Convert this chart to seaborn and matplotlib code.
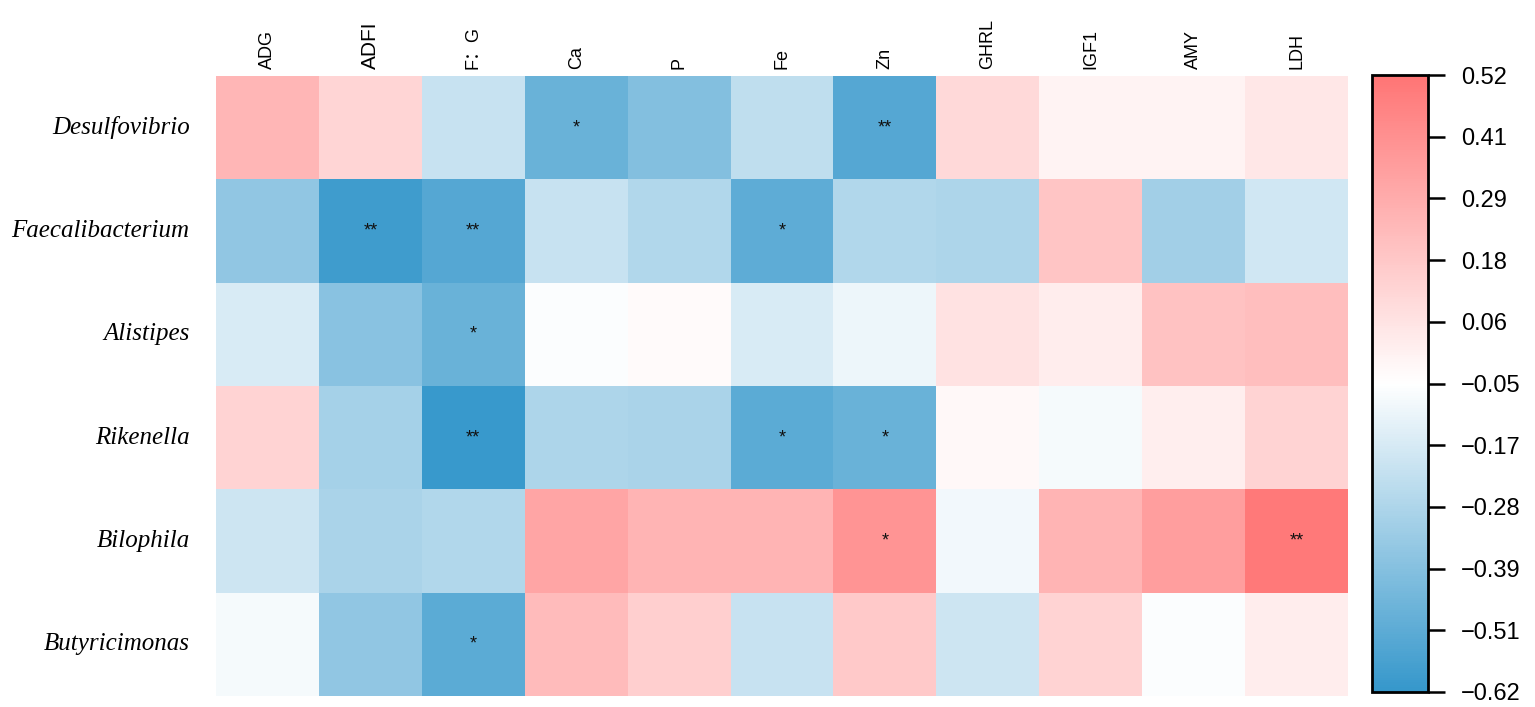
import numpy as np
import pandas as pd
import matplotlib
matplotlib.use("Agg")
import matplotlib.pyplot as plt
from matplotlib.colors import LinearSegmentedColormap
import seaborn as sns

genera = ["Desulfovibrio", "Faecalibacterium", "Alistipes", "Rikenella", "Bilophila", "Butyricimonas"]
indices = ["ADG", "ADFI", "F：G", "Ca", "P", "Fe", "Zn", "GHRL", "IGF1", "AMY", "LDH"]

r_desulfovibrio    = [0.25, 0.12, -0.21, -0.47, -0.40, -0.23, -0.53, 0.11, 0.00, 0.00, 0.05]
r_faecalibacterium = [-0.36, -0.59, -0.53, -0.21, -0.27, -0.50, -0.27, -0.28, 0.19, -0.31, -0.18]
r_alistipes        = [-0.16, -0.38, -0.47, -0.06, -0.03, -0.16, -0.10, 0.07, 0.025, 0.20, 0.22]
r_rikenella        = [0.13, -0.30, -0.61, -0.28, -0.29, -0.51, -0.47, -0.02, -0.08, 0.02, 0.13]
r_bilophila        = [-0.19, -0.29, -0.27, 0.32, 0.26, 0.26, 0.39, -0.09, 0.26, 0.35, 0.50]
r_butyricimonas    = [-0.08, -0.36, -0.51, 0.23, 0.15, -0.21, 0.17, -0.19, 0.13, -0.06, 0.025]

sig_desulfovibrio    = ["", "", "", "*", "", "", "**", "", "", "", ""]
sig_faecalibacterium = ["", "**", "**", "", "", "*", "", "", "", "", ""]
sig_alistipes        = ["", "", "*", "", "", "", "", "", "", "", ""]
sig_rikenella        = ["", "", "**", "", "", "*", "*", "", "", "", ""]
sig_bilophila        = ["", "", "", "", "", "", "*", "", "", "", "**"]
sig_butyricimonas    = ["", "", "*", "", "", "", "", "", "", "", ""]

cbar_labels = ["−0.62", "−0.51", "−0.39", "−0.28", "−0.17", "−0.05", "0.06", "0.18", "0.29", "0.41", "0.52"]
vmin, vmax = -0.62, 0.52

df = pd.DataFrame([r_desulfovibrio, r_faecalibacterium, r_alistipes, r_rikenella,
                   r_bilophila, r_butyricimonas], index=genera, columns=indices)
annot = np.array([sig_desulfovibrio, sig_faecalibacterium, sig_alistipes, sig_rikenella,
                  sig_bilophila, sig_butyricimonas])

cmap = LinearSegmentedColormap.from_list("bwr_custom", ["#3597cb", "#ffffff", "#ff7575"])

sns.set_style("white")
plt.rcParams['font.family'] = ['Liberation Sans', 'Noto Sans CJK SC', 'DejaVu Sans']

fig = plt.figure(figsize=(15.35, 7.07), dpi=100)
ax = fig.add_axes([216/1535, 11/707, 1132/1535, 620/707])
cax = fig.add_axes([1372/1535, 15/707, 56/1535, 617/707])

sns.heatmap(df, ax=ax, cbar_ax=cax, cmap=cmap, vmin=vmin, vmax=vmax,
            annot=annot, fmt="", annot_kws={"fontsize": 13, "color": "#111111", "va": "center"},
            linewidths=0, square=False)

ax.xaxis.tick_top()
ax.set_xticklabels(indices, rotation=90, fontsize=13,
                   family=['Liberation Sans', 'Noto Sans CJK SC', 'DejaVu Sans'], va='bottom')
for t in ax.get_xticklabels():
    if t.get_text() == "ADFI":
        t.set_fontsize(15)
ax.tick_params(axis='x', length=0, pad=5, colors='black')
ax.set_yticklabels(genera, rotation=0, fontsize=18, family='Liberation Serif', style='italic',
                   color='black')
ax.tick_params(axis='y', length=0, pad=19)
ax.set_xlabel("")
ax.set_ylabel("")

cb = ax.collections[0].colorbar
cb.set_ticks(np.linspace(vmin, vmax, len(cbar_labels)))
cb.set_ticklabels(cbar_labels)
cax.tick_params(labelsize=17, length=12, width=1.8, color='black', labelcolor='black', pad=12)
cb.outline.set_edgecolor('black')
cb.outline.set_linewidth(2)

fig.savefig("out.png", dpi=100, facecolor="white")
